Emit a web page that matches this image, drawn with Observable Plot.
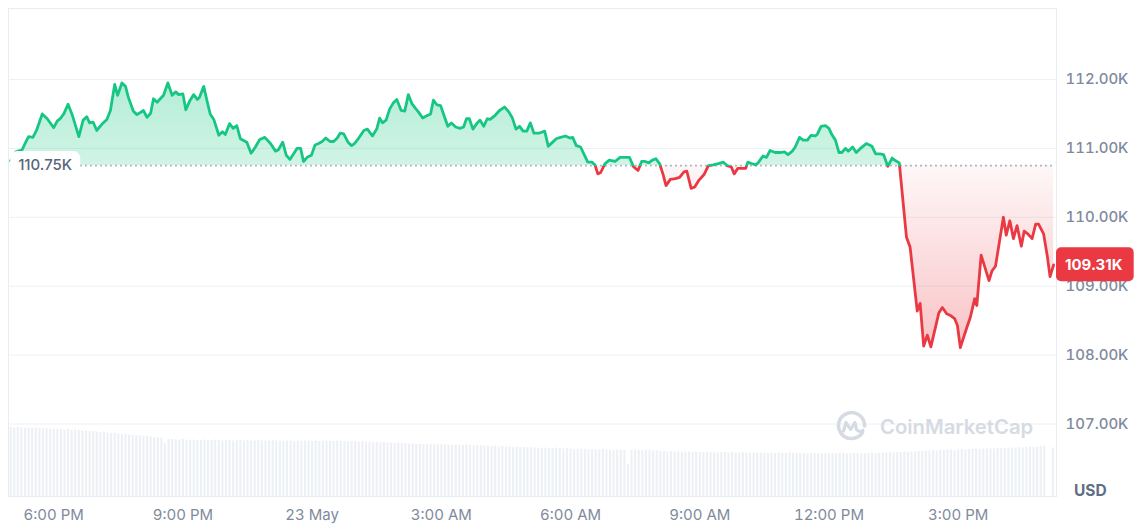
<!DOCTYPE html>
<html><head><meta charset="utf-8">
<script src="https://cdn.jsdelivr.net/npm/d3@7"></script>
<script src="https://cdn.jsdelivr.net/npm/@observablehq/plot@0.6"></script>
<style>
body{margin:0;background:#fff;font-family:Inter,"Noto Sans",sans-serif;}
#wrap{position:relative;width:1143px;height:527px;overflow:hidden;background:#fff;}
#wrap svg{position:absolute;left:0;top:0;}
.wm{position:absolute;left:835px;top:410px;display:flex;align-items:center;color:#d6dbe3;font:600 20.3px Inter,sans-serif;letter-spacing:0px;}
.wm svg{position:static !important;margin-right:12px;}
.usd{position:absolute;left:1074px;top:481px;color:#616e85;font:700 15.5px Inter,sans-serif;}
</style></head><body><div id="wrap"></div>
<script>
// ---- data ----
const baseline = 110.75; // 24h open, K USD
// minutes after 22 May 17:00
const priceMinutes = [0,7,16,21,25,31,36,44,51,60,65,69,74,80,86,95,101,106,110,115,120,127,134,139,145,149,155,160,164,171,176,185,190,195,199,204,213,219,225,230,234,240,244,250,255,260,263,269,274,278,283,290,295,299,305,310,315,320,329,335,341,347,354,362,369,373,379,384,389,394,399,404,408,413,419,424,429,434,439,445,450,455,459,464,470,475,479,485,492,497,504,510,514,518,523,528,533,538,544,549,554,559,564,568,574,579,585,589,594,599,603,609,614,620,626,631,635,639,644,650,654,659,664,668,675,681,688,694,699,704,709,714,719,724,729,736,744,749,754,760,766,773,779,783,788,794,799,804,810,814,818,822,828,834,842,849,856,862,868,874,879,884,889,894,899,904,909,913,919,926,932,938,942,948,953,959,966,972,979,986,993,998,1004,1008,1013,1018,1024,1027,1032,1038,1042,1048,1053,1058,1065,1072,1078,1083,1089,1093,1099,1104,1110,1115,1121,1124,1129,1135,1140,1144,1149,1154,1158,1163,1167,1173,1178,1184,1192,1200,1205,1211,1216,1222,1228,1233,1238,1248,1253,1263,1267,1272,1277,1282,1293,1298,1304,1310,1315,1319,1323,1333,1337,1343,1346,1352,1363,1367,1372,1383,1387,1392,1397,1402,1408,1412,1417,1423,1428,1432,1439,1444,1448,1453];
// BTC price, thousands of USD
const priceValues = [110.82,110.95,110.98,111.09,111.17,111.16,111.26,111.50,111.43,111.30,111.40,111.43,111.50,111.64,111.48,111.17,111.41,111.46,111.37,111.38,111.26,111.35,111.42,111.55,111.93,111.77,111.95,111.90,111.74,111.54,111.49,111.55,111.45,111.51,111.72,111.67,111.77,111.95,111.77,111.82,111.78,111.79,111.56,111.70,111.78,111.71,111.74,111.90,111.67,111.50,111.42,111.19,111.24,111.20,111.36,111.29,111.33,111.14,111.09,110.93,111.02,111.13,111.16,111.07,110.96,110.98,111.09,110.90,110.84,110.92,111.00,111.00,110.81,110.87,110.90,111.05,111.07,111.10,111.15,111.10,111.10,111.15,111.22,111.21,111.09,111.04,111.07,111.15,111.26,111.28,111.18,111.28,111.44,111.37,111.41,111.57,111.66,111.71,111.55,111.54,111.78,111.65,111.58,111.53,111.44,111.47,111.50,111.70,111.63,111.62,111.50,111.32,111.37,111.31,111.29,111.31,111.43,111.43,111.28,111.37,111.41,111.32,111.43,111.42,111.48,111.55,111.60,111.53,111.44,111.28,111.32,111.25,111.25,111.37,111.22,111.22,111.25,111.03,111.08,111.14,111.16,111.18,111.15,111.16,111.04,111.02,110.91,110.80,110.80,110.76,110.63,110.65,110.78,110.83,110.81,110.87,110.87,110.87,110.73,110.68,110.81,110.81,110.79,110.83,110.85,110.78,110.62,110.46,110.55,110.56,110.58,110.66,110.67,110.42,110.44,110.54,110.62,110.75,110.76,110.78,110.80,110.75,110.73,110.63,110.71,110.71,110.71,110.80,110.78,110.76,110.80,110.89,110.87,110.97,110.94,110.94,110.95,110.91,110.96,111.02,111.16,111.12,111.12,111.19,111.18,111.21,111.32,111.33,111.29,111.20,111.12,110.94,110.94,111.00,110.96,111.02,110.94,111.00,111.07,111.03,110.92,110.92,110.91,110.74,110.86,110.82,110.79,109.71,109.57,108.64,108.75,108.13,108.29,108.12,108.61,108.69,108.60,108.57,108.53,108.43,108.11,108.43,108.55,108.82,108.72,109.45,109.08,109.22,109.29,110.00,109.74,109.95,109.69,109.88,109.58,109.80,109.76,109.69,109.90,109.90,109.76,109.45,109.14,109.31];
// 24h volume bars (billions USD), one every 5 minutes from 22 May 17:00
const volumeValues = [69,68.5,69,68.5,68,68.5,68,68.5,68,67.5,68,
 67.5,67,67.5,67,66.5,67,66,66.5,66,65.5,
 65.5,65,65,64.5,64,64.5,63.5,63,63.5,62.5,
 62,62,61.5,61,61,60.5,60,60,59.5,59,58.5,58.5,
 53,57,57,56.5,56.5,57,56.5,56,56.5,56,56,56.5,56,56,56.5,56,55.5,56,56,55.5,56,56,55.5,56,55.5,55.5,56,55.5,55.5,55.5,56,55.5,55.5,55,55.5,55.5,55,55.5,55,55.5,55.5,55,55.5,55,55,55.5,55,55,55.5,55,55,54.5,55,55,54.5,55,54.5,54.5,
 54,54,53.5,54,53.5,53.5,53,53.5,53,53,
 52.5,52.5,52,52.5,52,52,52.5,52,51.5,52,51.5,51.5,51,51.5,51,51,51.5,51,50.5,51,50.5,50.5,50.5,50,50.5,
 49.5,50,49.5,49.5,49,49.5,49,49,48.5,49,48.5,48.5,48,48.5,48,48,48.5,48,47.5,48,
 47.5,47,47.5,47,47,46.5,47,46.5,46.5,47,46.5,46.5,46,46.5,46.5,46,
 32,
 46,46.5,46,46,46.5,46,45.5,46,
 45,45,44.5,45,44.5,44.5,44,44.5,44.5,44,44.5,44,44,44.5,44,44,43.5,44,44,43.5,44,43.5,43.5,44,43.5,43.5,43.5,43,43.5,43.5,43,43.5,43,43.5,43,43,43.5,43,43,43,
 43,42.5,43,43,42.5,43,43,42.5,43,42.5,43,43,42.5,43,43,43,42.5,43,43,43.5,43,43.5,43.5,43.5,44,43.5,44,44,44.5,44,
 44.5,44.5,45,45,45.5,45.5,46,45.5,46,46,
 46.5,46.5,46,46.5,47,46.5,47,47,47.5,47,47.5,47.5,48,47.5,48,
 48,48.5,48,48.5,48.5,49,48.5,49,49.5,49,49.5,50,50];
const lastVolumeMinute = 1452, lastVolume = 48.5;
const yTicks = [107,108,109,110,111,112];
const xTickHours = [1,4,7,10,13,16,19,22]; // hours after 22 May 17:00

// ---- build ----
const green = "#16c784", red = "#ea3943", axisGray = "#808a9d";
const t0 = new Date(2025,4,22,17,0);
const at = m => new Date(+t0 + m*60000);
if (priceMinutes.length !== priceValues.length) throw new Error("len mismatch " + priceMinutes.length + " " + priceValues.length);
const priceData = priceMinutes.map((m,i)=>({t: at(m), p: priceValues[i]}));
const volData = volumeValues.map((v,i)=>({t: at(i*5), v})).concat([{t: at(lastVolumeMinute), v: lastVolume}]);
const xDomain = [at(-3), at(1457)];
const xTicks = xTickHours.map(h => at(h*60));
const fmtX = d => {
  const h = d.getHours(), mnt = d.getMinutes();
  if (h === 0 && mnt === 0) return d.getDate() + " May";
  const h12 = h % 12 === 0 ? 12 : h % 12;
  return h12 + ":" + String(mnt).padStart(2,"0") + " " + (h < 12 ? "AM" : "PM");
};
const W = 1143, H = 527;
const common = {width: W, height: H, marginLeft: 8, marginRight: 87, marginBottom: 31};

const volPlot = Plot.plot({
  ...common, marginTop: 427,
  x: {type: "time", domain: xDomain, axis: null},
  y: {domain: [0, 69], axis: null},
  style: {background: "transparent"},
  marks: [
    Plot.ruleX(volData, {x: "t", y1: 0, y2: "v", stroke: "#edf0f4", strokeWidth: 2.1})
  ]
});

const pricePlot = Plot.plot({
  ...common, marginTop: 8,
  x: {type: "time", domain: xDomain, label: null},
  y: {domain: [105.948, 113.03], label: null},
  style: {background: "transparent", fontFamily: "Inter, sans-serif", fontSize: "15px"},
  marks: [
    Plot.frame({stroke: "#e9ecf0"}),
    Plot.gridY(yTicks, {stroke: "#edf0f4", strokeOpacity: 1}),
    Plot.areaY(priceData, {x: "t", y1: () => baseline, y2: "p", fill: "url(#cmcFill)"}),
    Plot.ruleY([baseline], {x1: priceData[0].t, x2: priceData[priceData.length-1].t, stroke: "#a0a8b6", strokeWidth: 1.6, strokeDasharray: "1.6,3.4"}),
    Plot.lineY(priceData, {x: "t", y: "p", stroke: "url(#cmcLine)", strokeWidth: 2.8, strokeLinejoin: "round", strokeLinecap: "round"}),
    Plot.axisY(yTicks, {anchor: "right", label: null, tickSize: 0, tickPadding: 9, tickFormat: d => d.toFixed(2) + "K", fill: axisGray, fontWeight: 500, fontSize: 15}),
    Plot.axisX(xTicks, {label: null, tickSize: 0, tickPadding: 13, tickFormat: fmtX, fill: axisGray, fontSize: 15})
  ]
});

const wrap = document.getElementById("wrap");
wrap.append(volPlot, pricePlot);

// gradients from the scales
const ys = pricePlot.scale("y"), xs = pricePlot.scale("x");
const svg = d3.select(pricePlot);
const yTop = ys.apply(d3.max(priceValues)), yBot = ys.apply(d3.min(priceValues)), yBase = ys.apply(baseline);
const off = (yBase - yTop) / (yBot - yTop);
const defs = svg.insert("defs", ":first-child");
const lg = defs.append("linearGradient").attr("id","cmcLine").attr("gradientUnits","userSpaceOnUse")
  .attr("x1",0).attr("x2",0).attr("y1",yTop).attr("y2",yBot);
lg.append("stop").attr("offset",off).attr("stop-color",green);
lg.append("stop").attr("offset",off).attr("stop-color",red);
const fg = defs.append("linearGradient").attr("id","cmcFill").attr("gradientUnits","userSpaceOnUse")
  .attr("x1",0).attr("x2",0).attr("y1",yTop).attr("y2",yBot);
fg.append("stop").attr("offset",0).attr("stop-color",green).attr("stop-opacity",0.32);
fg.append("stop").attr("offset",off).attr("stop-color",green).attr("stop-opacity",0.2);
fg.append("stop").attr("offset",off).attr("stop-color",red).attr("stop-opacity",0.04);
fg.append("stop").attr("offset",1).attr("stop-color",red).attr("stop-opacity",0.3);

// baseline label box
const x0 = xs.apply(priceData[0].t);
const gB = svg.append("g").attr("text-anchor","start");
const rB = gB.append("rect").attr("fill","#fff").attr("rx",7);
const tB = gB.append("text").attr("x", x0 + 8).attr("y", yBase).attr("dy","0.35em").attr("text-anchor","start")
  .attr("fill","#58667e").attr("font-size",15).attr("font-weight",500).text(baseline.toFixed(2) + "K");
const bb = tB.node().getBBox();
rB.attr("x", x0).attr("y", yBase - 14).attr("width", bb.width + 16).attr("height", 28);

// last price badge
const last = priceValues[priceValues.length-1];
const xR = xs.range[1], yL = ys.apply(last);
const gL = svg.append("g").attr("text-anchor","start");
const rL = gL.append("rect").attr("fill",red).attr("rx",5);
const tL = gL.append("text").attr("x", xR + 9).attr("y", yL).attr("dy","0.35em").attr("text-anchor","start")
  .attr("fill","#fff").attr("font-size",15).attr("font-weight",700).text(last.toFixed(2) + "K");
const lb = tL.node().getBBox();
rL.attr("x", xR).attr("y", yL - 17).attr("width", lb.width + 20).attr("height", 34);

// watermark + unit
const wm = document.createElement("div");
wm.className = "wm";
wm.innerHTML = '<svg width="33" height="33" viewBox="0 0 33 33"><path d="M27.5 22.5 A13 13 0 1 1 29.5 16" fill="none" stroke="#d6dbe3" stroke-width="3.6" stroke-linecap="round"/><path d="M8.5 21 L11 12.5 L15.5 19.5 L20 12.5 L21.5 19.5 Q24 22.5 28 20.5" fill="none" stroke="#d6dbe3" stroke-width="3.2" stroke-linejoin="round" stroke-linecap="round"/></svg><span>CoinMarketCap</span>';
wrap.append(wm);
const usd = document.createElement("div");
usd.className = "usd"; usd.textContent = "USD";
wrap.append(usd);
</script></body></html>
